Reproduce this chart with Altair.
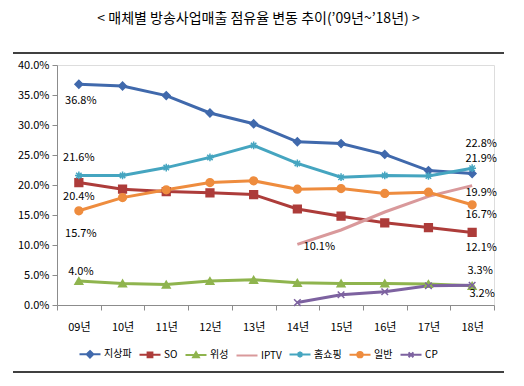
import altair as alt
import pandas as pd

# ---------------- data ----------------
years = ["09년", "10년", "11년", "12년", "13년", "14년", "15년", "16년", "17년", "18년"]
series_names = ["지상파", "SO", "위성", "IPTV", "홈쇼핑", "일반", "CP"]

terrestrial = [36.8, 36.5, 34.9, 32.0, 30.2, 27.2, 26.9, 25.1, 22.4, 21.9]
so = [20.4, 19.3, 18.9, 18.7, 18.4, 16.0, 14.8, 13.7, 12.9, 12.1]
satellite = [4.0, 3.6, 3.4, 4.0, 4.2, 3.7, 3.6, 3.6, 3.5, 3.2]
iptv = [None, None, None, None, None, 10.1, 12.5, 15.5, 18.1, 19.9]
homeshopping = [21.6, 21.6, 22.9, 24.6, 26.6, 23.6, 21.3, 21.6, 21.5, 22.8]
general = [15.7, 17.9, 19.2, 20.4, 20.7, 19.3, 19.4, 18.6, 18.8, 16.7]
cp = [None, None, None, None, None, 0.4, 1.7, 2.2, 3.2, 3.3]

y_ticks = [0, 5, 10, 15, 20, 25, 30, 35, 40]
title_text = "< 매체별 방송사업매출 점유율 변동 추이(’09년~’18년) >"

# ---------------- styles ----------------
colors = ["#4069AC", "#AD3C3A", "#8FB44E", "#D9999B", "#45A5C0", "#EE8C3E", "#7D62A0"]
shapes = {
    "지상파": "diamond",
    "SO": "square",
    "위성": "triangle-up",
    "IPTV": None,
    "홈쇼핑": "M-1,0L1,0M0,-1L0,1M-0.7,-0.7L0.7,0.7M-0.7,0.7L0.7,-0.7",
    "일반": "circle",
    "CP": "M-0.85,-0.85L0.85,0.85M-0.85,0.85L0.85,-0.85",
}
LINE = "M-3.5,0L3.5,0"
legend_paths = [
    LINE + "M0,-1.1L1.1,0L0,1.1L-1.1,0Z",
    LINE + "M-0.8,-0.8L0.8,-0.8L0.8,0.8L-0.8,0.8Z",
    LINE + "M0,-0.9L0.95,0.75L-0.95,0.75Z",
    LINE,
    LINE + "M-1,0L1,0M0,-1L0,1M-0.7,-0.7L0.7,0.7M-0.7,0.7L0.7,-0.7",
    LINE + "M-0.9,0A0.9,0.9 0 1,0 0.9,0A0.9,0.9 0 1,0 -0.9,0Z",
    LINE + "M-0.8,-0.8L0.8,0.8M-0.8,0.8L0.8,-0.8",
]
# (series, year, dx, dy)
label_style = [
    ("지상파", "09년", 2, 17),
    ("홈쇼핑", "09년", 0, -17),
    ("SO", "09년", 0, 14),
    ("일반", "09년", 2, 23),
    ("위성", "09년", 2, -9),
    ("IPTV", "14년", 22, 3),
    ("홈쇼핑", "18년", 9, -24),
    ("지상파", "18년", 9, -15),
    ("IPTV", "18년", 9, 7),
    ("일반", "18년", 9, 10),
    ("SO", "18년", 9, 16),
    ("CP", "18년", 8, -14),
    ("위성", "18년", 10, 8),
]

NUMFONT = "Liberation Sans Narrow, Noto Sans CJK KR, sans-serif"
KFONT = "Noto Sans CJK KR"

rows = []
for name, vals in zip(series_names,
                      [terrestrial, so, satellite, iptv, homeshopping, general, cp]):
    for yr, v in zip(years, vals):
        if v is not None:
            rows.append({"series": name, "year": yr, "value": v})
df = pd.DataFrame(rows)

base = alt.Chart(df)

x_enc = alt.X(
    "year:N", sort=years,
    scale=alt.Scale(type="band", domain=years, paddingInner=0, paddingOuter=0),
    axis=alt.Axis(title=None, tickBand="extent", grid=False, labelAngle=0,
                  domainColor="#8c8c8c", tickColor="#8c8c8c", tickSize=5,
                  labelPadding=11, labelFont=NUMFONT, labelFontSize=11,
                  labelColor="black"),
)
y_enc = alt.Y(
    "value:Q",
    scale=alt.Scale(domain=[0, 40], nice=False, zero=True),
    axis=alt.Axis(title=None, values=y_ticks, grid=False,
                  labelExpr="format(datum.value, '.1f') + '%'",
                  domainColor="#8c8c8c", tickColor="#8c8c8c", tickSize=5,
                  labelPadding=3, labelFont=NUMFONT, labelFontSize=11,
                  labelColor="black"),
)

line_layers = []
marker_layers = []
for name, col in zip(series_names, colors):
    sub = base.transform_filter(alt.datum.series == name)
    line_layers.append(sub.mark_line(strokeWidth=3, color=col).encode(x=x_enc, y=y_enc))
    shp = shapes[name]
    if shp is not None:
        marker_layers.append(
            sub.mark_point(filled=True, opacity=1, shape=shp, size=60,
                           strokeWidth=1.5, fill=col, stroke=col)
            .encode(x=x_enc, y=y_enc)
        )

legend_kw = dict(
    title=None, orient="none", direction="horizontal",
    legendX=28, legendY=284,
    symbolSize=36, symbolStrokeWidth=2, symbolOpacity=1, labelOffset=9,
    columnPadding=3, labelFont=KFONT, labelFontSize=10, labelColor="black",
)
legend_layer = base.transform_filter(alt.datum.year == "18년").mark_point(
    filled=True, opacity=0, strokeWidth=2
).encode(
    x=x_enc, y=y_enc,
    fill=alt.Fill("series:N", scale=alt.Scale(domain=series_names, range=colors),
                  legend=alt.Legend(**legend_kw)),
    stroke=alt.Stroke("series:N", scale=alt.Scale(domain=series_names, range=colors),
                      legend=alt.Legend(**legend_kw)),
    shape=alt.Shape("series:N", scale=alt.Scale(domain=series_names, range=legend_paths),
                    legend=alt.Legend(**legend_kw)),
)

label_layers = []
for name, yr, dx, dy in label_style:
    label_layers.append(
        base.transform_filter((alt.datum.series == name) & (alt.datum.year == yr))
        .transform_calculate(label="format(datum.value, '.1f') + '%'")
        .mark_text(dx=dx, dy=dy, font=NUMFONT, fontSize=11, color="black")
        .encode(x=x_enc, y=y_enc, text="label:N")
    )

frame = alt.Chart(pd.DataFrame({"k": [0]})).mark_rule(
    color="black", strokeWidth=1.5
)
top_rule = frame.encode(x=alt.value(-44), x2=alt.value(447), y=alt.value(-12))
bottom_rule = frame.encode(x=alt.value(-44), x2=alt.value(447), y=alt.value(307))

chart = alt.layer(
    top_rule, bottom_rule, *line_layers, *marker_layers, legend_layer, *label_layers
).properties(
    width=437, height=240,
    title=alt.TitleParams(title_text, font=KFONT, fontSize=14, fontWeight="normal",
                          color="black", anchor="middle", frame="bounds", offset=26),
    autosize=alt.AutoSizeParams(type="none"),
    padding={"left": 49, "top": 57, "right": 22, "bottom": 73},
).configure_view(stroke=None).configure(background="white")

chart.save("out.html", embed_options={"renderer": "svg", "actions": False})
